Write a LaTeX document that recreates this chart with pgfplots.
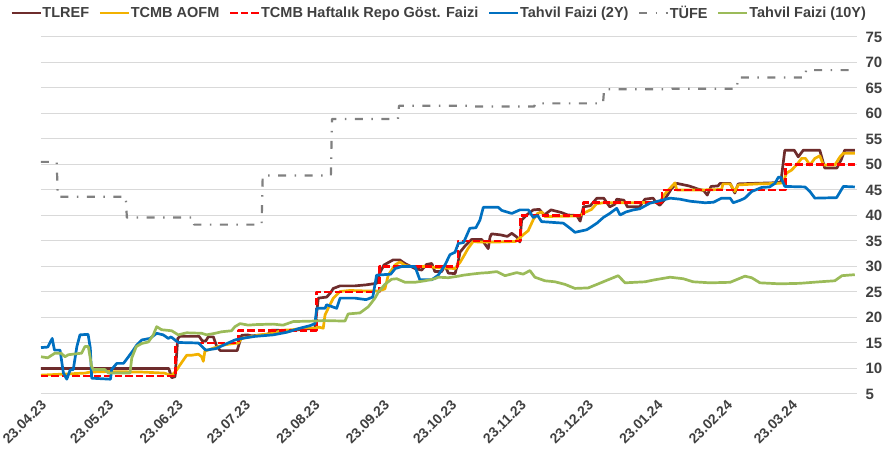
\documentclass[border=0pt]{standalone}
\usepackage{fontspec}
\setmainfont{Liberation Sans}
\usepackage{pgfplots}
\pgfplotsset{compat=1.18}
\definecolor{cTL}{HTML}{6E2C2C}
\definecolor{cAO}{HTML}{F2B100}
\definecolor{cRP}{HTML}{FF0000}
\definecolor{cY2}{HTML}{0070C0}
\definecolor{cTU}{HTML}{808080}
\definecolor{cY10}{HTML}{9BBB59}
\definecolor{cGrid}{HTML}{D9D9D9}
\definecolor{cTxt}{HTML}{404040}
\begin{document}
\begin{tikzpicture}
\useasboundingbox (-41pt,-68pt) rectangle (852pt,394pt);
\begin{axis}[
  at={(0pt,0pt)}, anchor=south west,
  scale only axis, width=816pt, height=357pt,
  xmin=0, xmax=364, ymin=5, ymax=75,
  axis line style={draw=none},
  major tick length=0pt,
  ytick={5,10,...,75},
  ymajorgrids, grid style={cGrid, line width=1pt},
  ytick pos=right, yticklabel pos=right,
  /pgf/number format/assume math mode=true,
  yticklabel style={font=\fontsize{15}{18}\selectfont\bfseries, text=cTxt, anchor=west, xshift=5pt},
  xtick={0,30,61,91,122,153,183,214,244,275,306,335},
  xticklabels={23.04.23,23.05.23,23.06.23,23.07.23,23.08.23,23.09.23,23.10.23,23.11.23,23.12.23,23.01.24,23.02.24,23.03.24},
  xticklabel style={font=\fontsize{14}{16}\selectfont\bfseries, text=cTxt, rotate=45, anchor=north east, inner sep=1pt, xshift=-3pt, yshift=-2pt},
  legend columns=6,
  legend image code/.code={\draw[#1] (0pt,0pt) -- (29pt,0pt);},
  legend style={draw=none, fill=none, inner sep=0pt, at={(0,1)}, anchor=west, xshift=-31pt, yshift=24pt,
    font=\fontsize{14.5}{17}\selectfont\bfseries, text=cTxt,
    nodes={inner xsep=0.5pt, inner ysep=1pt},
    /tikz/every even column/.append style={column sep=9pt}},
  every axis plot/.append style={line join=round, no markers},
]
\addplot[cTL, line width=2.7pt] coordinates {
(0,10)(57,10)(58.3,8.2)(59.8,8.4)(61,15.9)(62,16.3)(70.5,16.3)(72,15.4)(73.5,15.4)(74.6,16.2)(76.9,16.2)(78.4,14.3)(80,13.5)(87.5,13.5)(88.5,15)(89.5,16.5)(92,16.6)(94,16.4)(96.2,16.5)(101,16.6)(102.9,17.5)(106,17.5)(108,17.1)(113,17.5)(117,17.7)(122.2,17.9)(123.7,23.8)(127.4,24)(128.9,24.7)(130.4,25.7)(133.4,26.2)(140,26.2)(145,26.4)(149.7,26.7)(151.2,28.8)(153,30.3)(157.1,31.3)(160,31.3)(162.3,30.6)(166.8,29.6)(169.8,29.3)(172,30.4)(174.3,30.6)(175.7,29)(178.7,29)(180.2,30.2)(181.7,28.7)(184.7,28.6)(186.1,30.9)(186.9,32.8)(189.1,34)(192.1,35.3)(196.6,35.3)(199.5,33.5)(200.3,35.8)(201,36.4)(205,36.2)(208,35.9)(210,36.5)(212.2,35.8)(213.6,34.8)(214.4,39.1)(216.6,40.1)(219.6,41.1)(222.3,41.2)(224.5,40.1)(227.5,41.1)(232,40.6)(235,40.1)(239,40)(240.5,38.9)(242,41.7)(245,41.9)(248,43.4)(251,43.4)(253.7,41.7)(256,42.2)(256.8,43.2)(260,43.0)(261.6,41.7)(267,41.7)(269.4,43.2)(273,43.4)(274.5,42.5)(276,42)(278,43)(281.3,45.3)(283.6,46.3)(289,45.8)(293,45.2)(295.6,44.9)(297.2,44)(298.9,45.7)(302,45.8)(302.9,46.3)(307.4,46.3)(309.5,44.4)(311,46.2)(318,46.3)(326,46.4)(330,46.5)(331.8,52.8)(336,52.8)(337.8,51.5)(340,52.8)(347.4,52.8)(349.6,49.3)(355,49.3)(357,51)(358.5,52.8)(363,52.8)
};
\addlegendentry{TLREF}
\addplot[cAO, line width=2.7pt] coordinates {
(0,8.7)(10,8.9)(19.6,9.1)(22,9.3)(30,9.4)(45,9.3)(55,9.1)(57,8.8)(58.3,8.6)(60.5,9.7)(62,10.7)(65,12.6)(67.2,12.6)(70.2,12.8)(71.7,12.3)(72.4,11.4)(73.1,13.4)(76.9,14)(81.3,14.6)(85.8,14.9)(88,15)(89.5,15.9)(93.2,16.2)(97.7,16.6)(103.6,16.9)(107.4,17.5)(112,17.6)(118.5,18)(122.2,17.9)(124,18.1)(125.9,17.9)(126.7,20.5)(128.1,21.8)(130.4,23.8)(133.4,25.1)(137.8,25.3)(145,25.2)(150.5,25.2)(153.4,25.6)(154.9,28.3)(157.9,30.3)(160.1,30.9)(162.4,30.2)(165.4,30)(172.8,30)(175.7,29.8)(184.7,29.6)(186.9,30.8)(188.4,31.9)(190.6,33.6)(192.8,34.9)(195,34.8)(203,34.8)(211.6,34.9)(213.6,35.6)(215,36.2)(217.3,37)(219.6,39.2)(221.5,40.4)(223.3,40.7)(224.8,39.8)(240,39.9)(242.2,40.5)(245.6,41.2)(247.8,42.3)(251,42.5)(265,42.5)(276,42.6)(278.2,44.2)(282.8,46.4)(283.6,45)(294,45)(303.6,45.1)(304.2,46.2)(307.4,46.2)(309.5,44.7)(311,46)(320,46.2)(328.9,46.3)(331,46.4)(332.5,48.3)(334.8,48.9)(337,49.9)(339.3,51.2)(341,51.2)(343,49.9)(345.2,51.2)(347.4,51.7)(349,49.9)(354.1,49.9)(356.4,51.5)(357.9,52.2)(363,52.2)
};
\addlegendentry{TCMB AOFM}
\addplot[cRP, line width=2.7pt, dash pattern=on 7.5pt off 3pt] coordinates {
(0,8.5)(60,8.5)(60,15)(88,15)(88,17.5)(123,17.5)(123,25)(151,25)(151,30)(186,30)(186,35)(214,35)(214,40)(242,40)(242,42.5)(277,42.5)(277,45)(332,45)(332,50)(363,50)
};
\addlegendentry{TCMB Haftalık Repo Göst. Faizi}
\addplot[cY2, line width=2.7pt] coordinates {
(0,14.1)(3,14.2)(5,15.9)(6,13.6)(8.5,13.6)(10,9.1)(11.5,7.9)(13,9.7)(14.4,9.8)(16,14.3)(17.4,16.6)(21,16.7)(22,14)(22.6,8.1)(31,7.9)(31.5,9.8)(33.8,11)(36.8,11)(39,12.3)(41.2,13.6)(42.7,14.6)(45,15.6)(48.6,15.9)(51.6,16.9)(54.5,16.6)(56.8,15.9)(58,16.2)(61.2,15.1)(70.2,15.0)(73.5,13.6)(78,13.9)(82.5,14.8)(86.5,15.6)(91,16)(95.5,16.3)(103.6,16.6)(109.6,17.1)(115.5,17.9)(120,18.4)(122.2,18.8)(123,21.8)(126.7,21.8)(127.4,22.5)(131.9,21.8)(133.4,23.8)(140,23.8)(145,23.5)(148,24)(149.7,28.3)(156,28.5)(158,29.6)(161,30)(166.8,30)(169,27.4)(174.3,27.4)(177.2,28.3)(180.2,30.3)(182.4,32.3)(184.7,32.8)(186.1,34.5)(188.5,34.7)(191.3,37.5)(194,37.6)(195.8,39.1)(197.3,41.6)(204,41.6)(205.5,41)(210,40.4)(213.6,41.1)(217.4,41.1)(219.6,39.6)(221.5,40)(223.3,38.8)(233,38.5)(236,37.5)(238.2,36.7)(243.4,37.2)(245.6,37.8)(248,38.5)(250.8,39.6)(253.7,40.4)(256.8,41.4)(258.3,40.1)(261,40.7)(264.2,41.1)(267,41.3)(271.6,42.4)(276.1,42.9)(280.6,43.4)(285,43.2)(289.5,42.8)(296.2,42.5)(300,42.6)(303.6,43.4)(307.4,43.4)(308.8,42.5)(312,43)(314,43.4)(317,44.7)(321.5,45.5)(325,45.6)(327.4,46.3)(328.9,47.5)(330,47.5)(331.8,45.7)(340.8,45.6)(343,44.7)(345.2,43.4)(354.9,43.5)(357.9,45.7)(363,45.6)
};
\addlegendentry{Tahvil Faizi (2Y)}
\addplot[cTU, line width=2.2pt, dash pattern=on 8pt off 8.5pt on 1.5pt off 8.5pt] coordinates {
(0,50.51)(7,50.51)(7.5,43.68)(37.8,43.68)(38.3,39.59)(67.8,39.59)(68.3,38.21)(98.4,38.21)(98.9,47.83)(129.3,47.83)(129.8,58.94)(159.2,58.94)(159.7,61.53)(190,61.53)(190.5,61.36)(220,61.36)(220.5,61.98)(250.7,61.98)(251.2,64.77)(281,64.77)(281.5,64.86)(310.4,64.86)(310.9,67.07)(340.8,67.07)(341.3,68.5)(363,68.5)
};
\addlegendentry{TÜFE}
\addplot[cY10, line width=2.7pt] coordinates {
(0,12.3)(3,12.1)(6.2,13)(9,13)(10.7,12.3)(12.2,12.7)(18.1,13)(19.6,14.3)(21.1,14.3)(22.6,10.4)(23.3,9.8)(28.5,9.8)(30,9.1)(39.7,9.1)(40.5,12.1)(42.5,14.3)(44.9,14.9)(47.9,15.2)(50.1,16.6)(51.6,18.2)(53.8,17.6)(58.3,17.4)(61.2,16.6)(65,17.0)(71.7,16.9)(73.9,16.6)(77.6,16.9)(80.6,17.2)(85,17.4)(86.5,18.2)(88.8,18.8)(92.5,18.5)(95.4,18.6)(103.6,18.7)(108,18.5)(112.5,19.2)(121.5,19.3)(126,19.4)(135.6,19.3)(137,20.7)(142.3,20.9)(146,22.1)(149,23.8)(150.5,25)(153.4,26.5)(156.4,27.5)(158.7,27.6)(162.4,26.9)(166.8,26.9)(171.3,27.2)(175.7,27.6)(177.2,27.9)(181.7,27.8)(186.1,28.1)(188.4,28.3)(192,28.5)(196,28.7)(199.5,28.8)(203.3,29)(207,28.2)(212.2,28.8)(215.1,28.5)(218.1,29.2)(220.3,27.9)(224.8,27.2)(229.3,27)(233.7,26.5)(238.2,25.7)(244.1,25.8)(248.6,26.6)(253,27.4)(257.5,28.2)(260.5,26.8)(264.9,26.9)(269.4,27)(273.9,27.4)(280.6,27.9)(286.5,27.6)(290.9,27)(298.4,26.8)(307.4,26.9)(314,28.1)(317,27.8)(320.7,26.8)(329.6,26.6)(338.5,26.7)(347.4,27)(354.1,27.2)(357.3,28.2)(363,28.4)
};
\addlegendentry{Tahvil Faizi (10Y)}
\end{axis}
\end{tikzpicture}
\end{document}
